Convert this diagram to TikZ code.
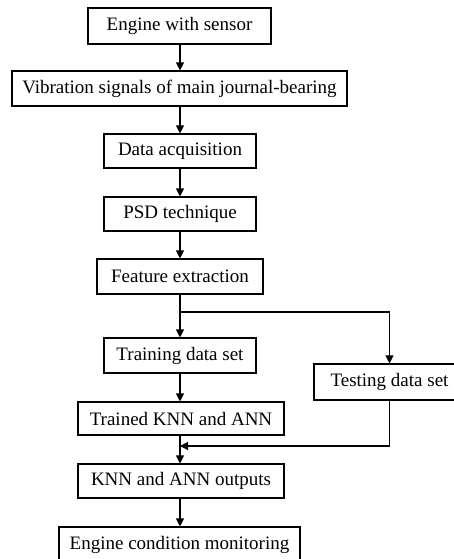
\documentclass[tikz,border=0pt]{standalone}
\usepackage{fontspec}
\setmainfont{Liberation Serif}
\usetikzlibrary{arrows.meta}

\tikzset{
	box/.style={draw, line width=1.1pt, rectangle, inner sep=0pt, align=center,
		font=\fontsize{19}{22}\selectfont},
	flow/.style={line width=1.1pt, -{Triangle[length=8pt,width=8pt]}}
}

\begin{document}
\begin{tikzpicture}[x=1pt, y=-1pt]
			\useasboundingbox (0, 0) rectangle (453, 559);
			\node[box, minimum width=183pt, minimum height=36pt](engine) at (179.5, 26) {Engine with sensor};
			\node[box, minimum width=335pt, minimum height=35pt](vibration) at (179.5, 88.5) {Vibration signals of main journal-bearing};
			\node[box, minimum width=152pt, minimum height=34pt](acquisition) at (180, 151) {Data acquisition};
			\node[box, minimum width=152pt, minimum height=34pt](psd) at (180, 214) {PSD technique};
			\node[box, minimum width=166pt, minimum height=35pt](feature) at (180, 276.5) {Feature extraction};
			\node[box, minimum width=152pt, minimum height=35pt](training) at (180, 355.5) {Training data set};
			\node[box, minimum width=151pt, minimum height=36pt](testing) at (389.5, 382) {Testing data set};
			\node[box, minimum width=206pt, minimum height=33pt](trained) at (181, 418.5) {Trained KNN and ANN};
			\node[box, minimum width=206pt, minimum height=34pt](outputs) at (181, 481) {KNN and ANN outputs};
			\node[box, minimum width=241pt, minimum height=35pt](monitoring) at (179.5, 544.5) {Engine condition monitoring};
			\coordinate (split) at (180, 312);
			\coordinate (merge) at (180, 446);
			\draw [flow] (engine.south -| split) -- (vibration.north -| split);
			\draw [flow] (vibration.south -| split) -- (acquisition.north -| split);
			\draw [flow] (acquisition.south -| split) -- (psd.north -| split);
			\draw [flow] (psd.south -| split) -- (feature.north -| split);
			\draw [flow] (feature.south -| split) -- (training.north -| split);
			\draw [flow] (split) -| (testing.north);
			\draw [flow] (training.south -| split) -- (trained.north -| split);
			\draw [flow] (trained.south -| split) -- (outputs.north -| split);
			\draw [flow] (testing.south) |- (merge);
			\draw [flow] (outputs.south -| split) -- (monitoring.north -| split);
		\end{tikzpicture}
\end{document}
